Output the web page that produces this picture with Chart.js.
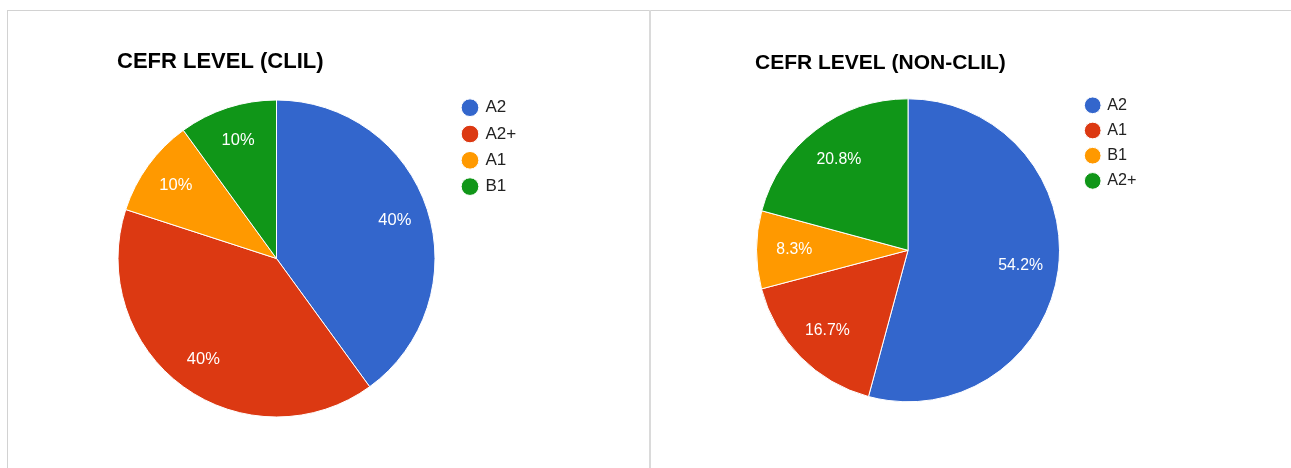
<!DOCTYPE html>
<html>
<head>
<meta charset="utf-8">
<title>CEFR level</title>
<script src="https://cdn.jsdelivr.net/npm/chart.js@4.4.1/dist/chart.umd.min.js"></script>
<style>
  body { margin: 0; background: #fff; width: 1291px; height: 468px; overflow: hidden; position: relative; }
  #frame { position: absolute; left: 7px; top: 10px; right: 0; bottom: 0; border-top: 1px solid #d2d2d2; border-left: 1px solid #d2d2d2; }
  #divider { position: absolute; left: 649px; top: 10px; bottom: 0; width: 2px; background: #dadada; }
  canvas { position: absolute; top: 11px; }
  #clil { left: 8px; }
  #nonclil { left: 651px; }
</style>
</head>
<body>
<div id="frame"></div>
<div id="divider"></div>
<canvas id="clil" width="641" height="457"></canvas>
<canvas id="nonclil" width="640" height="457"></canvas>
<script>
// values (percent of students)
const clilLabels = ['A2', 'A2+', 'A1', 'B1'];
const clilValues = [40, 40, 10, 10];
const nonClilLabels = ['A2', 'A1', 'B1', 'A2+'];
const nonClilValues = [54.2, 16.7, 8.3, 20.8];
const sliceColors = ['#3366cc', '#dc3912', '#ff9900', '#109618'];

Chart.defaults.font.family = '"Liberation Sans", Arial, sans-serif';

// white percent text inside each slice
const sliceLabels = {
  id: 'sliceLabels',
  afterDatasetsDraw(chart, args, opts) {
    const ctx = chart.ctx;
    const values = chart.data.datasets[0].data;
    ctx.save();
    ctx.fillStyle = '#fff';
    ctx.font = opts.size + 'px "Liberation Sans", Arial, sans-serif';
    ctx.textAlign = 'center';
    ctx.textBaseline = 'middle';
    chart.getDatasetMeta(0).data.forEach((arc, i) => {
      const p = arc.getProps(['x', 'y', 'startAngle', 'endAngle', 'outerRadius']);
      const mid = (p.startAngle + p.endAngle) / 2;
      const d = p.outerRadius * opts.ratio;
      ctx.fillText(values[i] + '%', p.x + Math.cos(mid) * d, p.y + Math.sin(mid) * d);
    });
    ctx.restore();
  }
};

// title sits a bit to the right of the plot area's left edge
const titleIndent = {
  id: 'titleIndent',
  afterLayout(chart, args, opts) {
    if (chart.titleBlock) {
      chart.titleBlock.left += opts.x;
      chart.titleBlock.right += opts.x;
    }
  }
};

function makePie(id, title, labels, values, s) {
  return new Chart(document.getElementById(id), {
    type: 'pie',
    data: {
      labels: labels,
      datasets: [{
        data: values,
        backgroundColor: sliceColors,
        borderColor: '#fff',
        borderWidth: 1
      }]
    },
    options: {
      responsive: false,
      animation: false,
      events: [],
      radius: s.radius,
      layout: { padding: s.pad },
      plugins: {
        title: {
          display: true,
          text: title,
          align: 'start',
          color: '#000',
          font: { size: s.titleSize, weight: 'bold' },
          padding: { top: s.titleTop, bottom: s.titleBottom }
        },
        legend: {
          position: 'right',
          align: 'start',
          fullSize: false,
          maxWidth: s.legendWidth,
          labels: {
            usePointStyle: true,
            pointStyle: 'circle',
            boxWidth: s.boxWidth,
            boxHeight: s.boxHeight,
            padding: s.legendPad,
            color: '#222',
            font: { size: s.legendSize }
          }
        },
        tooltip: { enabled: false },
        sliceLabels: { size: s.labelSize, ratio: s.labelRatio },
        titleIndent: { x: s.indent }
      }
    },
    plugins: [sliceLabels, titleIndent]
  });
}

makePie('clil', 'CEFR LEVEL (CLIL)', clilLabels, clilValues, {
  radius: 158.5,
  pad: { left: 91.3, right: 129.3, top: 0, bottom: 40.9 },
  titleSize: 22, titleTop: 37.5, titleBottom: 15,
  legendWidth: 66, boxWidth: 14, boxHeight: 12.5, legendPad: 9.3, legendSize: 17,
  labelSize: 16.5, labelRatio: 0.785, indent: 17.7
});

makePie('nonclil', 'CEFR LEVEL (NON-CLIL)', nonClilLabels, nonClilValues, {
  radius: 151.5,
  pad: { left: 87.8, right: 149.8, top: 0, bottom: 55.6 },
  titleSize: 21, titleTop: 39.2, titleBottom: 12.8,
  legendWidth: 64, boxWidth: 13, boxHeight: 11.8, legendPad: 9, legendSize: 16.2,
  labelSize: 15.8, labelRatio: 0.75, indent: 16.2
});
</script>
</body>
</html>
